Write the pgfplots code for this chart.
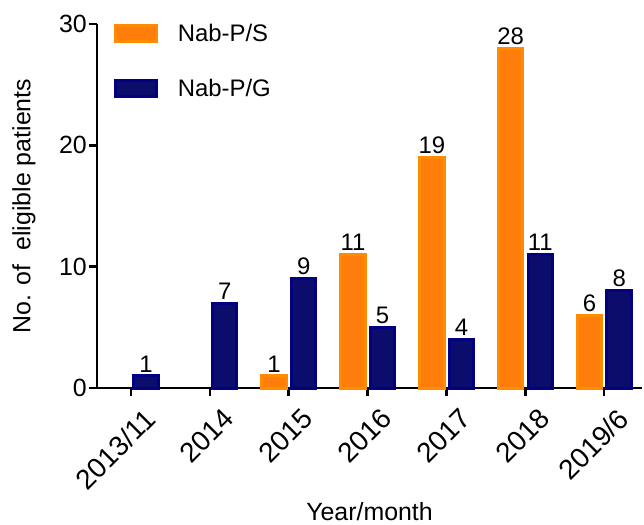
\documentclass[border=0pt]{standalone}
\usepackage{pgfplots}
\pgfplotsset{compat=1.18}
\usepackage{fontspec}
\setmainfont{Liberation Sans}
\definecolor{orout}{RGB}{255,140,0}
\definecolor{orin}{RGB}{255,125,10}
\definecolor{nvout}{RGB}{0,0,128}
\definecolor{nvin}{RGB}{12,12,108}
\begin{document}
\begin{tikzpicture}
\begin{axis}[
  scale only axis,
  width=545bp, height=364bp,
  xmin=-0.43, xmax=6.48,
  ymin=0, ymax=30,
  axis lines=left,
  axis line style={-, line width=2.5bp},
  clip=false,
  xtick={0,1,2,3,4,5,6},
  xticklabels={2013/11,2014,2015,2016,2017,2018,2019/6},
  ytick={0,10,20,30},
  major tick length=8bp,
  tick style={line width=2.5bp, black},
  tick align=outside,
  x tick label style={rotate=45, anchor=north east, font=\fontsize{28}{30}\selectfont, inner sep=0bp, yshift=-16bp, xshift=1bp},
  y tick label style={font=\fontsize{25}{27}\selectfont, inner sep=2bp},
  /pgf/number format/assume math mode=true,
  xlabel={Year/month},
  ylabel={No. of\ \ eligible patients},
  label style={font=\fontsize{25}{27}\selectfont},
  xlabel style={at={(axis description cs:0.5,0)}, anchor=center, yshift=-124bp},
  ylabel style={at={(axis description cs:0,0.5)}, anchor=center, yshift=73bp},
  nodes near coords,
  every node near coord/.append style={font=\fontsize{24}{26}\selectfont, black, yshift=-1bp},
  legend style={at={(axis cs:-0.22,30)}, anchor=north west, draw=none, fill=none,
     font=\fontsize{24}{26}\selectfont, row sep=36bp, inner sep=0pt,
     nodes={inner sep=0pt, anchor=west}},
  legend cell align=left,
  legend image code/.code={\draw[#1, line width=3bp] (1.5bp,-8bp) rectangle (42.5bp,8bp); \path[draw=none,fill=none] (0,0) -- (64bp,0);},
]
\addplot[ybar, bar width=0.31, bar shift=-0.185, fill=orin, draw=orout, line width=3bp,
  every node near coord/.append style={xshift=-14.6bp}]
  coordinates {(2,1) (3,11) (4,19) (5,28) (6,6)};
\addlegendentry{Nab-P/S}
\addplot[ybar, bar width=0.31, bar shift=0.19, fill=nvin, draw=nvout, line width=3bp,
  every node near coord/.append style={xshift=15bp}]
  coordinates {(0,1) (1,7) (2,9) (3,5) (4,4) (5,11) (6,8)};
\addlegendentry{Nab-P/G}
\end{axis}
\pgfresetboundingbox
\path (-97bp,-137bp) rectangle (547bp,388bp);
\end{tikzpicture}
\end{document}
